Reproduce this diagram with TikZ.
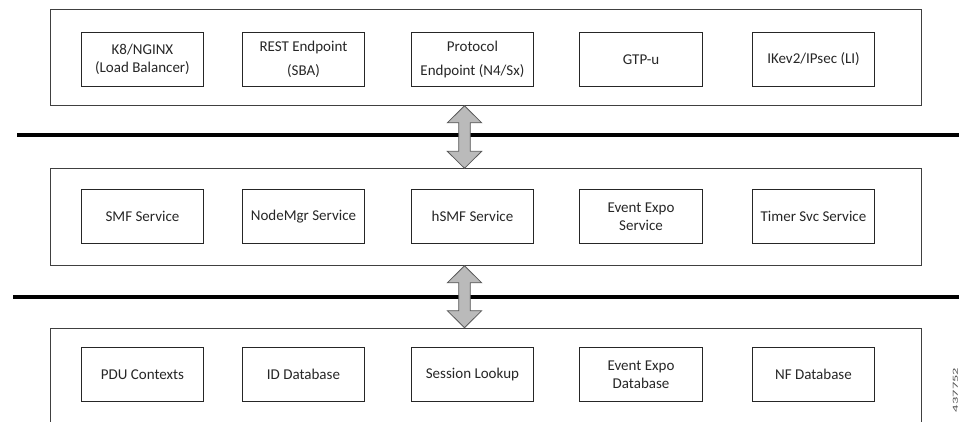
\documentclass[tikz,border=0pt]{standalone}
\usepackage{fontspec}
\setmainfont{Carlito}
\usetikzlibrary{calc}
\tikzset{
  layer/.style={draw=black!75, line width=1.1pt, minimum width=870.7pt, anchor=north west, inner sep=0pt},
  box/.style={draw=black!85, line width=0.9pt, minimum width=122.6pt, minimum height=54pt, anchor=north west, inner sep=0pt, align=center, font=\fontsize{15}{18}\selectfont, text=black!85},
  widebox/.style={box, font=\fontsize{15}{24}\selectfont},
  bus/.style={line width=3.6pt, black},
  bigarr/.style={draw=black!65, fill=black!27, line width=0.8pt, line join=miter},
}
\begin{document}
\begin{tikzpicture}[x=1pt,y=-1pt]
\useasboundingbox (0,0) rectangle (959,422);
\clip (0,0) rectangle (959,422);
% layers
\node[layer, minimum height=95.7pt] (top) at (50,9) {};
\node[layer, minimum height=96.4pt] (mid) at (50,168.3) {};
\node[layer, minimum height=120pt] (bot) at (50,327.7) {};
% buses
\coordinate (b1l) at (17.3,135);
\coordinate (b1r) at (959,135);
\coordinate (b2l) at (13.3,297);
\coordinate (b2r) at (959,297);
\draw[bus] (b1l) -- (b1r);
\draw[bus] (b2l) -- (b2r);
% top row
\node[box] (k8) at (80.7,32) {K8/NGINX\\(Load Balancer)};
\node[widebox] (rest) at (241.7,32) {REST Endpoint\\(SBA)};
\node[widebox] (proto) at (410.7,32) {Protocol\\Endpoint (N4/Sx)};
\node[box] (gtp) at (579.3,32) {GTP-u};
\node[box] (ike) at (751.7,32) {IKev2/IPsec (LI)};
% middle row
\node[box] (smf) at (80.7,189.3) {SMF Service};
\node[box] (nmgr) at (241.7,189.3) {NodeMgr Service};
\node[box] (hsmf) at (410.7,189.3) {hSMF Service};
\node[box] (evs) at (579.3,189.3) {Event Expo\\Service};
\node[box] (tmr) at (751.7,189.3) {Timer Svc Service};
% bottom row
\node[box] (pdu) at (80.7,347.3) {PDU Contexts};
\node[box] (idb) at (241.7,347.3) {ID Database};
\node[box] (sess) at (410.7,347.3) {Session Lookup};
\node[box] (evdb) at (579.3,347.3) {Event Expo\\Database};
\node[box] (nfdb) at (751.7,347.3) {NF Database};
% double arrows
\draw[bigarr] (464.5,0 |- top.south) -- ++(17.2,17) -- ++(-11.4,0)
  -- ($(464.5,0 |- mid.north)+(5.8,-17)$) -- ++(11.4,0) -- (464.5,0 |- mid.north)
  -- ++(-17.2,-17) -- ++(11.4,0) -- ($(464.5,0 |- top.south)+(-5.8,17)$) -- ++(-11.4,0) -- cycle;
\draw[bigarr] (464.5,0 |- mid.south) -- ++(17.2,17) -- ++(-11.4,0)
  -- ($(464.5,0 |- bot.north)+(5.8,-17)$) -- ++(11.4,0) -- (464.5,0 |- bot.north)
  -- ++(-17.2,-17) -- ++(11.4,0) -- ($(464.5,0 |- mid.south)+(-5.8,17)$) -- ++(-11.4,0) -- cycle;
% figure id
\node[rotate=90, inner sep=0pt, text=black!70] (fid) at (955.5,390) {\resizebox{44pt}{5pt}{437752}};
\end{tikzpicture}
\end{document}
